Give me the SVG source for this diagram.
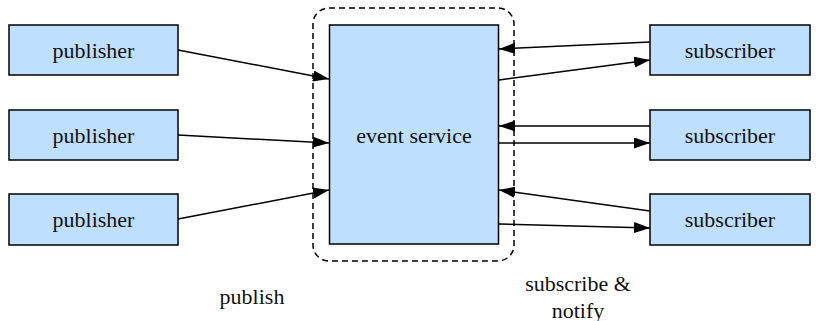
<svg xmlns="http://www.w3.org/2000/svg" width="816" height="321" viewBox="0 0 816 321">
<style>
.box{fill:#bfdfff;stroke:#000;stroke-width:1.5}
.lbl{font-family:"Liberation Serif","Times New Roman",serif;font-size:22px;fill:#111;text-anchor:middle;dominant-baseline:central}
.edge{stroke:#000;stroke-width:1.5;fill:none;marker-end:url(#ah)}
</style>
<defs>
<marker id="ah" viewBox="0 0 16 11" refX="16" refY="5.5" markerWidth="16" markerHeight="11" markerUnits="userSpaceOnUse" orient="auto">
<path d="M0,0 L16,5.5 L0,11 z" fill="#000"/>
</marker>
</defs>
<rect x="0" y="0" width="816" height="321" fill="#fff"/>
<g id="container">
<rect x="313" y="8" width="201" height="253" rx="16" ry="16" fill="none" stroke="#000" stroke-width="1.5" stroke-dasharray="6,4"/>
</g>
<g id="event-service">
<rect class="box" x="329.5" y="25" width="169" height="219"/>
<text class="lbl" x="414" y="135">event service</text>
</g>
<g id="pub1"><rect class="box" x="9" y="25" width="169" height="50"/><text class="lbl" x="93.5" y="50">publisher</text></g>
<g id="pub2"><rect class="box" x="9" y="110" width="169" height="50"/><text class="lbl" x="93.5" y="135">publisher</text></g>
<g id="pub3"><rect class="box" x="9" y="194" width="169" height="51"/><text class="lbl" x="93.5" y="219">publisher</text></g>
<g id="sub1"><rect class="box" x="650" y="25" width="160" height="50"/><text class="lbl" x="730" y="50">subscriber</text></g>
<g id="sub2"><rect class="box" x="650" y="110" width="160" height="50"/><text class="lbl" x="730" y="135">subscriber</text></g>
<g id="sub3"><rect class="box" x="650" y="194" width="160" height="51"/><text class="lbl" x="730" y="219">subscriber</text></g>
<g id="connectors">
<line class="edge" x1="178" y1="50" x2="329" y2="79"/>
<line class="edge" x1="178" y1="135" x2="329" y2="143"/>
<line class="edge" x1="178" y1="219" x2="329" y2="190"/>
<line class="edge" x1="650" y1="42" x2="499" y2="49"/>
<line class="edge" x1="499" y1="80" x2="650" y2="60"/>
<line class="edge" x1="650" y1="126" x2="499" y2="126"/>
<line class="edge" x1="499" y1="143" x2="650" y2="143"/>
<line class="edge" x1="650" y1="211" x2="499" y2="190"/>
<line class="edge" x1="499" y1="224" x2="650" y2="228"/>
</g>
<g id="labels">
<text class="lbl" x="252" y="296">publish</text>
<text class="lbl" x="578" y="283">subscribe &amp;</text>
<text class="lbl" x="578" y="310">notify</text>
</g>
</svg>
